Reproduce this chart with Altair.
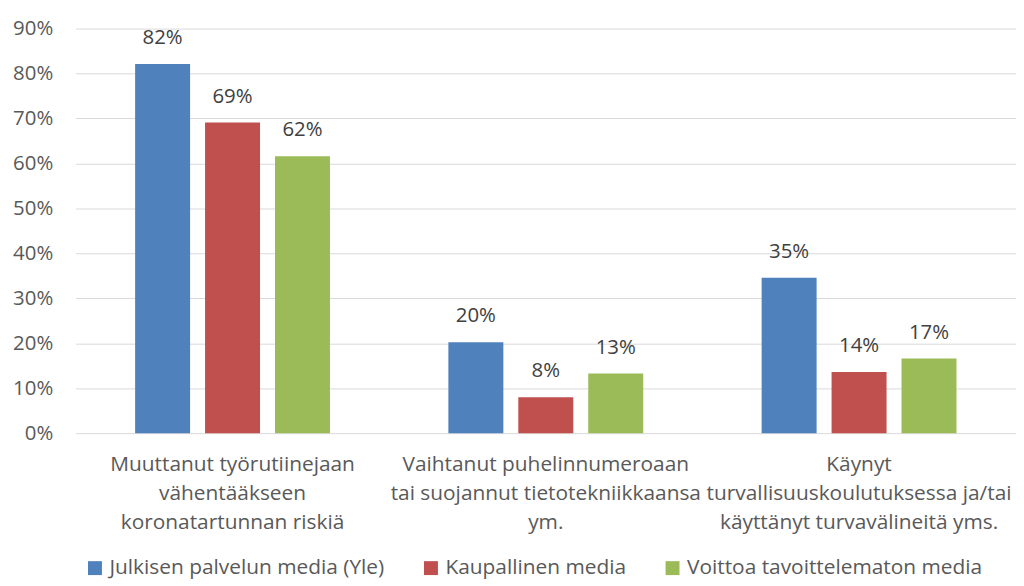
import altair as alt
import pandas as pd

categories = [
    "Muuttanut työrutiinejaan|vähentääkseen|koronatartunnan riskiä",
    "Vaihtanut puhelinnumeroaan|tai suojannut tietotekniikkaansa|ym.",
    "Käynyt|turvallisuuskoulutuksessa ja/tai|käyttänyt turvavälineitä yms.",
]
series = ["Julkisen palvelun media (Yle)", "Kaupallinen media", "Voittoa tavoittelematon media"]
yle = [82.1, 20.2, 34.6]
kaupallinen = [69.1, 8.0, 13.6]
voittoa = [61.6, 13.3, 16.6]
colors = ["#4f81bd", "#c0504d", "#9bbb59"]
y_ticks = list(range(0, 100, 10))

FONT = "Open Sans"
FS_TEXT = 21
FS_NUM = 20.5

rows = []
for s, vals in zip(series, [yle, kaupallinen, voittoa]):
    for c, v in zip(categories, vals):
        rows.append({"kategoria": c, "media": s, "arvo": v, "teksti": f"{round(v)}%"})
df = pd.DataFrame(rows)

base = alt.Chart(df).encode(
    x=alt.X(
        "kategoria:N",
        sort=categories,
        scale=alt.Scale(paddingInner=0.378, paddingOuter=0.19),
        axis=alt.Axis(
            title=None,
            labelAngle=0,
            labelExpr="split(datum.label, '|')",
            labelFont=FONT,
            labelFontSize=FS_TEXT,
            labelColor="#595959",
            labelLineHeight=29,
            labelPadding=21,
            labelBaseline="top",
            labelLimit=0,
            domain=False,
            ticks=False,
            grid=False,
        ),
    ),
    xOffset=alt.XOffset("media:N", sort=series, scale=alt.Scale(paddingInner=0.214, paddingOuter=0)),
    y=alt.Y(
        "arvo:Q",
        scale=alt.Scale(domain=[0, 90], nice=False),
        axis=alt.Axis(
            title=None,
            values=y_ticks,
            labelExpr="datum.value + '%'",
            labelFont=FONT,
            labelFontSize=FS_NUM,
            labelColor="#595959",
            labelPadding=23,
            domain=False,
            ticks=False,
            grid=True,
            gridColor="#d9d9d9",
            gridWidth=1,
        ),
    ),
)

bars = base.mark_bar().encode(
    color=alt.Color(
        "media:N",
        sort=series,
        scale=alt.Scale(domain=series, range=colors),
        legend=alt.Legend(
            title=None,
            orient="none",
            legendX=9,
            legendY=532,
            direction="horizontal",
            symbolType="square",
            symbolSize=196,
            symbolStrokeWidth=0,
            labelFont=FONT,
            labelFontSize=FS_TEXT,
            labelColor="#595959",
            labelOffset=4,
            columnPadding=36,
            labelLimit=0,
        ),
    )
)

labels = base.mark_text(
    dy=-20, baseline="alphabetic", fontSize=FS_NUM, color="#404040", font=FONT
).encode(text="teksti:N")

chart = (
    alt.layer(bars, labels)
    .properties(
        width=946,
        height=407,
        autosize=alt.AutoSizeParams(type="none"),
        padding={"left": 68, "top": 19, "right": 0, "bottom": 146},
    )
    .configure_view(stroke=None)
)

chart.save("out.html", embed_options={"renderer": "svg", "actions": False})
